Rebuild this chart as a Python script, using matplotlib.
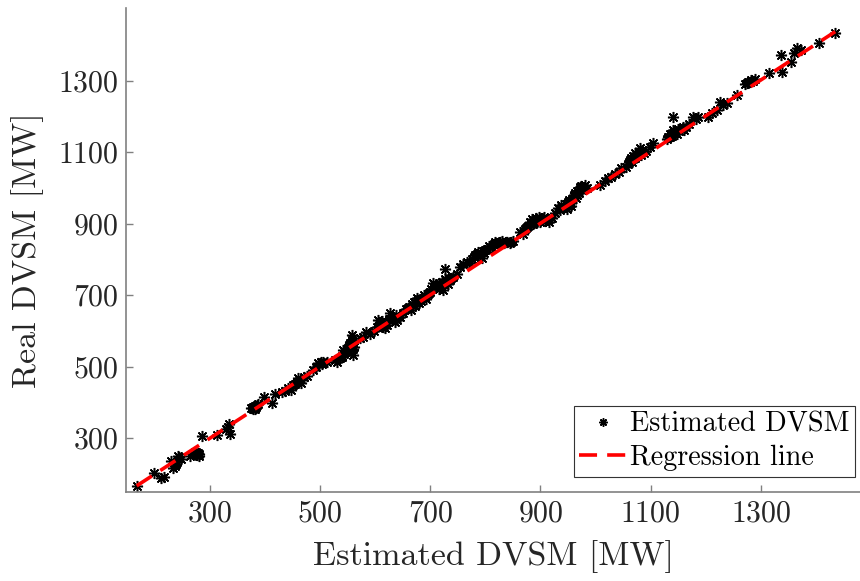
import numpy as np
import matplotlib.pyplot as plt

# Оценённые и реальные значения DVSM [MW]
est = [167, 198, 212, 216, 230, 233, 236, 242, 238, 248, 240, 244,
       264, 270, 275, 281, 278, 272, 276, 280, 286, 312, 332, 334, 336, 330,
       375, 379, 385, 382, 388, 378, 381, 384, 399, 412, 418, 430, 436, 442, 448, 451, 455, 460, 466, 470,
       476, 462, 458,
       487, 492, 497, 502, 506, 512, 498, 504, 527, 530, 536, 540, 542, 545, 548, 550, 552, 554, 557, 557,
       560, 562, 540, 544, 547, 549, 551, 553, 555, 556, 558, 559,
       572, 578, 584, 590, 598, 605, 610, 615, 618, 622, 627, 630, 635, 639, 645, 650, 655, 660, 665, 668,
       603, 608, 612, 620, 625, 632, 637,
       675, 680, 684, 690, 695, 700, 705, 710, 715, 720, 723, 726, 726, 730, 736, 742, 748, 754, 760, 766,
       662, 666, 670, 673, 678, 682, 688, 692, 698, 702, 706, 712, 716, 722, 728, 733, 738,
       770, 776, 782, 787, 793, 798, 803, 808, 815, 820, 826, 834, 840, 844, 850,
       780, 785, 790, 796, 800, 806, 812, 818, 824, 830, 838, 846,
       863, 868, 874, 878, 881, 886, 890, 896, 900, 902, 908, 915, 920, 926, 932, 935, 938, 944, 950, 955,
       872, 876, 882, 885, 888, 892, 894, 898, 904, 906,
       958, 962, 962, 966, 968, 971, 974, 980, 985,
       940, 946, 948, 952, 956, 960, 964, 966, 970, 972, 976,
       1008, 1018, 1023, 1028, 1035, 1042, 1047, 1055, 1060, 1065, 1071, 1075, 1080, 1087, 1092, 1098, 1104,
       1058, 1062, 1066, 1068, 1072, 1078, 1082, 1085,
       1130, 1135, 1138, 1141, 1140, 1145, 1150, 1158, 1165, 1170, 1177, 1182, 1186,
       1132, 1136, 1139, 1143, 1147, 1152, 1156, 1160,
       1204, 1212, 1220, 1226, 1232, 1238, 1256, 1272, 1277, 1283, 1290, 1274, 1280, 1286,
       1314, 1338, 1336, 1354, 1360, 1366, 1372, 1405, 1435]
real = [166, 203, 187, 192, 236, 215, 222, 250, 228, 240, 233, 246,
        250, 256, 262, 250, 258, 262, 253, 256, 306, 308, 332, 338, 311, 325,
        383, 386, 392, 380, 394, 382, 389, 386, 414, 397, 423, 428, 432, 440, 434, 448, 450, 467, 453, 470,
        474, 460, 456,
        490, 498, 509, 512, 514, 512, 506, 508, 518, 514, 523, 530, 546, 540, 546, 552, 560, 565, 588, 575,
        533, 556, 526, 536, 542, 548, 544, 556, 552, 562, 570, 548,
        579, 584, 598, 592, 600, 630, 618, 612, 607, 615, 649, 636, 625, 630, 640, 650, 662, 663, 658, 672,
        612, 624, 628, 622, 632, 640, 644,
        691, 677, 684, 695, 704, 710, 733, 722, 718, 728, 715, 772, 746, 734, 743, 752, 760, 780, 786, 794,
        668, 676, 680, 670, 686, 690, 700, 690, 706, 716, 722, 728, 734, 736, 742, 730, 748,
        790, 800, 812, 822, 805, 818, 830, 836, 842, 846, 850, 846, 848, 845, 852,
        806, 815, 812, 824, 826, 838, 835, 850, 845, 852, 850, 848,
        878, 872, 888, 894, 906, 900, 910, 911, 904, 914, 908, 905, 916, 930, 943, 939, 952, 948, 962, 958,
        884, 892, 898, 912, 904, 916, 906, 918, 912, 920,
        970, 976, 986, 980, 990, 998, 1005, 1009, 1000,
        944, 956, 940, 966, 950, 980, 972, 992, 985, 1002, 994,
        1009, 1020, 1027, 1032, 1038, 1046, 1055, 1060, 1072, 1083, 1097, 1090, 1111, 1097, 1104, 1115, 1125,
        1066, 1078, 1074, 1090, 1084, 1100, 1092, 1105,
        1138, 1144, 1150, 1162, 1200, 1155, 1165, 1170, 1172, 1180, 1200, 1192, 1198,
        1142, 1150, 1146, 1158, 1152, 1160, 1166, 1162,
        1200, 1210, 1219, 1242, 1232, 1237, 1261, 1290, 1298, 1302, 1305, 1294, 1296, 1300,
        1322, 1326, 1373, 1354, 1378, 1392, 1385, 1406, 1435]

# коэффициенты линии регрессии
reg_k = 1.003
reg_b = -1.5

ticks = [300, 500, 700, 900, 1100, 1300]

plt.rcParams['font.family'] = 'serif'
plt.rcParams['font.serif'] = ['cmr10']
plt.rcParams['axes.formatter.use_mathtext'] = True

x = np.array(est)
y = np.array(real)
xl = np.array([x.min(), x.max()])

fig = plt.figure(figsize=(8.6, 5.81), dpi=100)
ax = fig.add_axes([126.5 / 860, 1 - 491.7 / 581, (860 - 126.5) / 860, (491.7 - 8) / 581])

ax.plot(x, y, linestyle='none', marker=(8, 2, 0), markersize=8, markeredgewidth=1.1,
        color='black', label='Estimated DVSM')
ax.plot(xl, reg_k * xl + reg_b, color='red', linewidth=2.6, linestyle=(0, (5, 2.8)),
        label='Regression line')

ax.set_xlim(148.5, 1480)
ax.set_ylim(149.6, 1504)
ax.set_xticks(ticks)
ax.set_yticks(ticks)

for s in ['top', 'right']:
    ax.spines[s].set_visible(False)
for s in ['left', 'bottom']:
    ax.spines[s].set_color('#808080')
    ax.spines[s].set_linewidth(1.2)
ax.tick_params(direction='in', length=5, width=1, colors='#808080', labelcolor='#262626',
               labelsize=21.5, pad=6)

ax.set_xlabel('Estimated DVSM [MW]', fontsize=24.5, color='#262626', labelpad=9)
ax.set_ylabel('Real DVSM [MW]', fontsize=24.5, color='#262626', labelpad=10)

leg = ax.legend(loc='lower right', bbox_to_anchor=(0.9932, 0.0304), fontsize=20.3,
                frameon=True, fancybox=False, edgecolor='#333333', handlelength=1.65,
                handletextpad=0.14, borderpad=0.2, labelspacing=0.25, borderaxespad=0,
                framealpha=1)
leg.get_frame().set_linewidth(0.8)
leg.legend_handles[0].set_markersize(6)

fig.savefig('out.png', dpi=100)
